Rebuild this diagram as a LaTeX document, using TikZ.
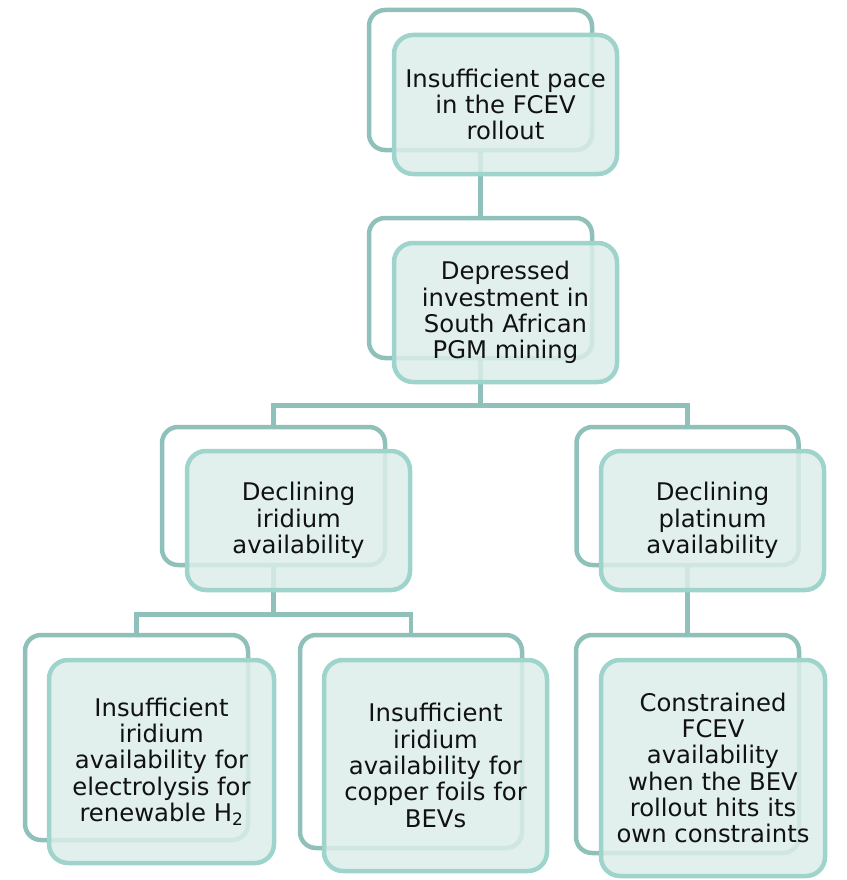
\documentclass[tikz,border=0pt]{standalone}
\usepackage{fontspec}
\setmainfont{DejaVu Sans}
\definecolor{backline}{HTML}{8FC0B9}
\definecolor{frontline}{HTML}{9ED4CB}
\definecolor{frontfill}{HTML}{DCEDEA}
\definecolor{txt}{HTML}{111111}
\tikzset{
  backbox/.style={draw=backline, line width=4.5pt, rounded corners=16pt, inner sep=0pt, fill=white},
  frontbox/.style={draw=frontline, line width=4.5pt, rounded corners=19pt, inner sep=0pt,
    fill=frontfill, fill opacity=0.85, text opacity=1, align=center, text=txt,
    font=\fontsize{24.3}{26.3}\selectfont},
  conn/.style={draw=backline, line width=4.5pt, line join=miter},
}
\begin{document}
\begin{tikzpicture}[x=1pt, y=-1pt]
\useasboundingbox (0,0) rectangle (846,880);

% outline boxes behind each card
\node[backbox, minimum width=223pt, minimum height=140pt] (b1) at (480.5,80) {};
\node[backbox, minimum width=223pt, minimum height=140pt] (b2) at (480.5,288) {};
\node[backbox, minimum width=223pt, minimum height=138pt] (b3) at (273.5,496) {};
\node[backbox, minimum width=222pt, minimum height=138pt] (b4) at (687.5,496) {};
\node[backbox, minimum width=223pt, minimum height=205pt] (b5) at (136.5,737.5) {};
\node[backbox, minimum width=222pt, minimum height=213pt] (b6) at (411,741.5) {};
\node[backbox, minimum width=223pt, minimum height=218pt] (b7) at (687.5,744) {};

% connectors between the outline boxes
\draw[conn] (b1.south) -- (b2.north);
\draw[conn] (b2.south) -- ++(0,45) coordinate (j2);
\draw[conn] (j2) -| (b3.north);
\draw[conn] (j2) -| (b4.north);
\draw[conn] (b3.south) -- ++(0,47) coordinate (j3);
\draw[conn] (j3) -| (b5.north);
\draw[conn] (j3) -| (b6.north);
\draw[conn] (b4.south) -- (b7.north);

% translucent cards with the text
\node[frontbox, minimum width=223pt, minimum height=139pt] (f1) at (505.5,104.5)
  {Insufficient pace\\in the FCEV\\rollout};
\node[frontbox, minimum width=223pt, minimum height=139pt] (f2) at (505.5,312.5)
  {Depressed\\investment in\\South African\\PGM mining};
\node[frontbox, minimum width=223pt, minimum height=139pt] (f3) at (298.5,520.5)
  {Declining\\iridium\\availability};
\node[frontbox, minimum width=223pt, minimum height=139pt] (f4) at (712.5,520.5)
  {Declining\\platinum\\availability};
\node[frontbox, minimum width=225pt, minimum height=203pt] (f5) at (161.5,761.5)
  {Insufficient\\iridium\\availability for\\electrolysis for\\renewable H\textsubscript{2}};
\node[frontbox, minimum width=223pt, minimum height=211pt] (f6) at (435.5,765.5)
  {Insufficient\\iridium\\availability for\\copper foils for\\BEVs};
\node[frontbox, minimum width=224pt, minimum height=216pt] (f7) at (713,768)
  {Constrained\\FCEV\\availability\\when the BEV\\rollout hits its\\own constraints};
\end{tikzpicture}
\end{document}
